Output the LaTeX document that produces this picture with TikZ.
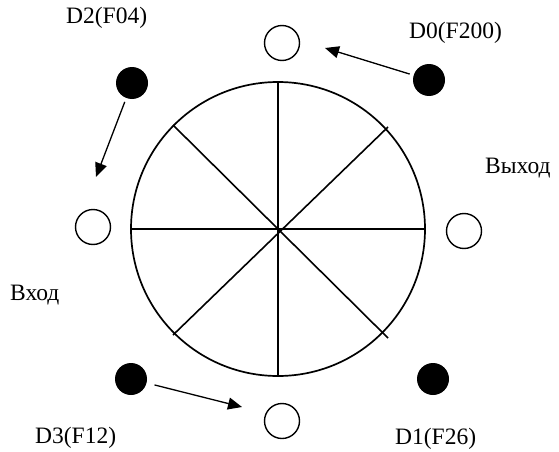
\documentclass[tikz,border=0pt]{standalone}
\usepackage{fontspec}
\setmainfont{Liberation Serif}
\usetikzlibrary{arrows.meta}
\begin{document}
\begin{tikzpicture}[x=1pt,y=-1pt,
  wheel/.style={line width=1.7pt},
  spoke/.style={line width=1.6pt},
  hole/.style={circle,draw,line width=1.4pt,minimum size=35pt,inner sep=0pt},
  pin/.style={circle,fill=black,minimum size=32pt,inner sep=0pt},
  arr/.style={line width=1.3pt,-{Triangle[length=14pt,width=12pt]}},
  lbl/.style={anchor=base west,inner sep=0pt,font=\fontsize{23.5}{28}\selectfont}]
\useasboundingbox (0,0) rectangle (559,452);
% wheel
\node[circle,draw,wheel,minimum size=294pt,inner sep=0pt] (w) at (278,229) {};
\coordinate (c) at (279,229);
\draw[spoke] (w.north) -- (w.south);
\draw[spoke] (w.west) -- (w.east);
\coordinate (ul) at (173,125);
\coordinate (lr) at (388,338);
\coordinate (ur) at (388,127);
\coordinate (ll) at (173,335);
\draw[spoke] (ul) -- (lr);
\draw[spoke] (ur) -- (ll);
% holes
\node[hole] (top) at (282,43) {};
\node[hole] (left) at (93,227) {};
\node[hole] (right) at (464,231) {};
\node[hole] (bot) at (282,421) {};
% pins
\node[pin] (d0) at (429,80) {};
\node[pin] (d2) at (132,83) {};
\node[pin] (d3) at (131,379) {};
\node[pin] (d1) at (433,379) {};
% arrows
\coordinate (e0) at (325,48);
\coordinate (e2) at (96,177);
\coordinate (e3) at (242,407);
\draw[arr,shorten <=4pt] (d0) -- (e0);
\draw[arr,shorten <=4pt] (d2) -- (e2);
\draw[arr,shorten <=8pt] (d3) -- (e3);
% labels
\node[lbl] (t2) at (66,24) {D2(F04)};
\node[lbl] (t0) at (409,39) {D0(F200)};
\node[lbl] (tout) at (485,173) {Выход};
\node[lbl] (tin) at (10,300) {Вход};
\node[lbl] (t3) at (35,443) {D3(F12)};
\node[lbl] (t1) at (395,444) {D1(F26)};
\end{tikzpicture}
\end{document}
